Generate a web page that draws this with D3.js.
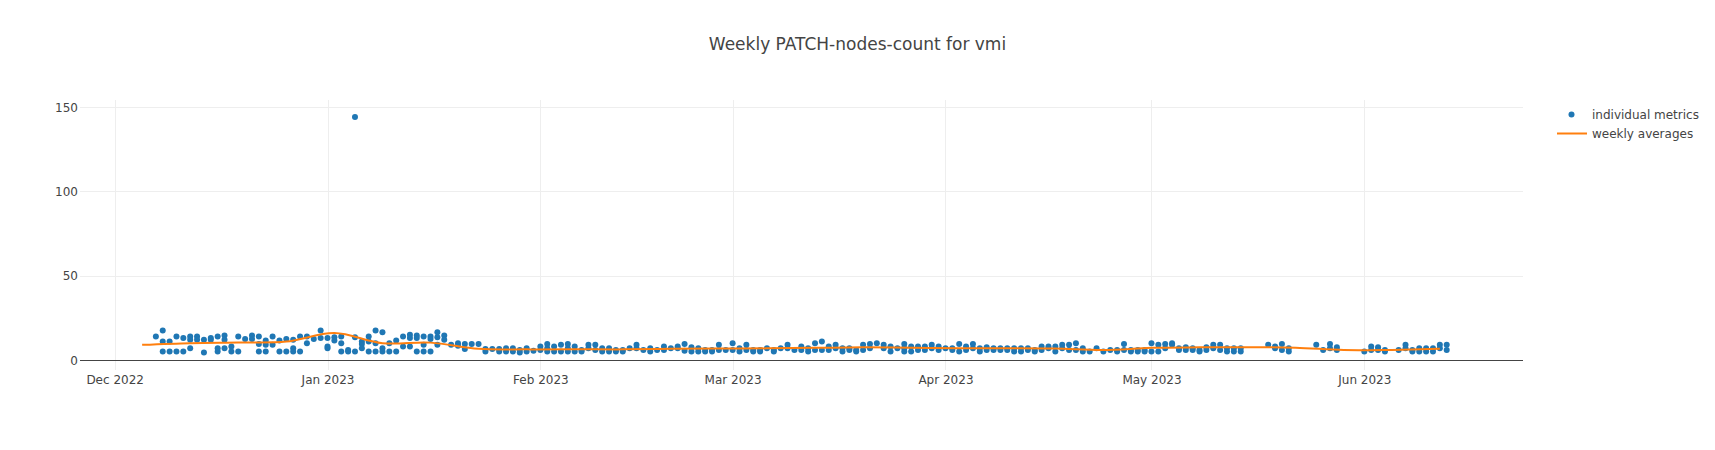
<!DOCTYPE html>
<html>
<head>
<meta charset="utf-8">
<script src="https://cdn.jsdelivr.net/npm/d3@7"></script>
<style>
  html, body { margin: 0; padding: 0; background: #fff; }
  svg { display: block; }
  text { font-family: "DejaVu Sans", Verdana, sans-serif; fill: #444; }
</style>
</head>
<body>
<svg id="chart" width="1715" height="450"></svg>
<script>
// ---------------- data ----------------
const chartTitle = "Weekly PATCH-nodes-count for vmi";
const seriesNames = ["individual metrics", "weekly averages"];

const dailyDates = [
  "2022-12-07","2022-12-08","2022-12-09","2022-12-10","2022-12-11","2022-12-12","2022-12-13","2022-12-14",
  "2022-12-15","2022-12-16","2022-12-17","2022-12-18","2022-12-19","2022-12-20","2022-12-21","2022-12-22",
  "2022-12-23","2022-12-24","2022-12-25","2022-12-26","2022-12-27","2022-12-28","2022-12-29","2022-12-30",
  "2022-12-31","2023-01-01","2023-01-02","2023-01-03","2023-01-04","2023-01-05","2023-01-06","2023-01-07",
  "2023-01-08","2023-01-09","2023-01-10","2023-01-11","2023-01-12","2023-01-13","2023-01-14","2023-01-15",
  "2023-01-16","2023-01-17","2023-01-18","2023-01-19","2023-01-20","2023-01-21","2023-01-22","2023-01-23",
  "2023-01-24","2023-01-25","2023-01-26","2023-01-27","2023-01-28","2023-01-29","2023-01-30","2023-01-31",
  "2023-02-01","2023-02-02","2023-02-03","2023-02-04","2023-02-05","2023-02-06","2023-02-07","2023-02-08",
  "2023-02-09","2023-02-10","2023-02-11","2023-02-12","2023-02-13","2023-02-14","2023-02-15","2023-02-16",
  "2023-02-17","2023-02-18","2023-02-19","2023-02-20","2023-02-21","2023-02-22","2023-02-23","2023-02-24",
  "2023-02-25","2023-02-26","2023-02-27","2023-02-28","2023-03-01","2023-03-02","2023-03-03","2023-03-04",
  "2023-03-05","2023-03-06","2023-03-07","2023-03-08","2023-03-09","2023-03-10","2023-03-11","2023-03-12",
  "2023-03-13","2023-03-14","2023-03-15","2023-03-16","2023-03-17","2023-03-18","2023-03-19","2023-03-20",
  "2023-03-21","2023-03-22","2023-03-23","2023-03-24","2023-03-25","2023-03-26","2023-03-27","2023-03-28",
  "2023-03-29","2023-03-30","2023-03-31","2023-04-01","2023-04-02","2023-04-03","2023-04-04","2023-04-05",
  "2023-04-06","2023-04-07","2023-04-08","2023-04-09","2023-04-10","2023-04-11","2023-04-12","2023-04-13",
  "2023-04-14","2023-04-15","2023-04-16","2023-04-17","2023-04-18","2023-04-19","2023-04-20","2023-04-21",
  "2023-04-22","2023-04-23","2023-04-24","2023-04-25","2023-04-26","2023-04-27","2023-04-28","2023-04-29",
  "2023-04-30","2023-05-01","2023-05-02","2023-05-03","2023-05-04","2023-05-05","2023-05-06","2023-05-07",
  "2023-05-08","2023-05-09","2023-05-10","2023-05-11","2023-05-12","2023-05-13","2023-05-14","2023-05-18",
  "2023-05-19","2023-05-20","2023-05-21","2023-05-25","2023-05-26","2023-05-27","2023-05-28","2023-06-01",
  "2023-06-02","2023-06-03","2023-06-04","2023-06-06","2023-06-07","2023-06-08","2023-06-09","2023-06-10",
  "2023-06-11","2023-06-12","2023-06-13"
];

const dailyValues = [
  [14],[17.5,11,5],[11,5],[14,5],[13,5],[14,12,7],[14,12],[12,4.5],
  [13,12],[14,7,5],[14.5,12,7],[8,5],[14,5],[12.5],[14.5,12.5],[14,9.5,5],
  [11.5,9,5],[14,9],[11.5,5],[12.5,5],[12,7,5],[14,5],[14,10],[12.5],
  [17.5,13],[13,8,7],[13.5,11.5],[14,10,5],[6,5],[144,13.5,5],[11,9.5,7],[14,11,5],
  [17.5,10,5],[16.5,7,5],[10,5],[11.5,5],[14,8],[15,13,8],[14.5,13,5],[14,9,5],
  [14,12.5,5],[16.5,13.5,9],[14.5,12],[9],[10,8.5],[9.5,6.5],[9.5],[9.5],
  [6.5,5],[6.5],[6.5,5],[7,5],[7,5],[6,4.5],[7,5],[5.5],
  [8,6],[9.5,7,5],[8,5],[9,5],[9.5,7,5],[8,5],[6,5],[9,7],
  [9,6],[7,5],[7,5],[6,5],[6,5],[7],[9,7],[6],
  [7,5],[6],[8,6],[7],[8,7],[9.5,5.5],[7.5,5],[7,5],
  [6,5],[6,5],[9,6],[6],[10,6],[7,5],[9,6],[6,5],
  [6,5],[7],[6,5],[7],[9,7],[6],[8,6],[7,5],
  [10,6],[11,6],[8,6],[9,7],[7,5],[7,6],[6,5],[9,6],
  [9.5,7],[10],[9,7],[8,5],[7],[9.5,7,5],[8,5],[8,6],
  [8,6],[9,7],[8,6],[7],[7,6],[9.5,5],[8,6],[9.5,7],
  [7,5],[7.5,6],[7,6],[7,6],[7,6],[7,5],[7,5],[7,6],
  [6,5],[8,6],[8,7],[8,5],[9,7],[9,6],[10,6],[7,5],
  [5],[7],[5],[6],[6,5],[9.5,6],[6,5],[6,5],
  [6,5],[10,5],[9,5],[9.5,7],[10,9],[7,6],[7.5,6],[7,6],
  [6,5],[7.5,6],[9,7],[9,6],[7,5],[7,5],[7,5],[9],
  [8,7],[9.5,6],[7,5],[9],[6],[9.5,7],[7.5,6],[5],
  [8,6],[7.5,6],[6,5],[6],[9,7],[6,5],[7,5],[7,5],
  [7,5],[9,7],[9,6]
];

const weekDates = [
  "2022-12-05","2022-12-12","2022-12-19","2022-12-26","2023-01-02","2023-01-09","2023-01-16",
  "2023-01-23","2023-01-30","2023-02-06","2023-02-13","2023-02-20","2023-02-27","2023-03-06",
  "2023-03-13","2023-03-20","2023-03-27","2023-04-03","2023-04-10","2023-04-17","2023-04-24",
  "2023-05-01","2023-05-08","2023-05-15","2023-05-22","2023-05-29","2023-06-05","2023-06-12"
];
const weekAvg = [
  9.0, 10.0, 10.4, 10.9, 16.0, 10.0, 10.3,
  6.6, 6.3, 6.4, 6.3, 6.6, 6.8, 6.9,
  7.2, 7.5, 7.3, 7.0, 7.0, 6.8, 5.9,
  7.2, 7.5, 7.6, 7.3, 5.9, 6.0, 6.6
];

const yTickValues = [0, 50, 100, 150];
const xDomainDates = ["2022-11-25T22:50:00Z", "2023-06-24T02:40:00Z"];
const yDomain = [-5.93, 154.15];

// ---------------- layout ----------------
const W = 1715, H = 450;
const plot = { left: 80, right: 1523, top: 100, bottom: 370 };
const blue = "#1f77b4", orange = "#ff7f0e";

const svg = d3.select("#chart");
const parse = s => new Date(s.length === 10 ? s + "T00:00:00Z" : s);

const x = d3.scaleUtc()
  .domain(xDomainDates.map(parse))
  .range([plot.left, plot.right]);
const y = d3.scaleLinear()
  .domain(yDomain)
  .range([plot.bottom, plot.top]);

// Title
svg.append("text")
  .attr("x", W / 2).attr("y", 50)
  .attr("text-anchor", "middle")
  .style("font-size", "17px")
  .text(chartTitle);

// Grid
const monthTicks = d3.utcMonth.range(parse("2022-12-01"), parse("2023-07-01"));
const grid = svg.append("g");
grid.selectAll("line.vx").data(monthTicks).join("line")
  .attr("x1", d => Math.round(x(d)) + 0.5).attr("x2", d => Math.round(x(d)) + 0.5)
  .attr("y1", plot.top).attr("y2", plot.bottom)
  .attr("stroke", "#eee").attr("stroke-width", 1);
grid.selectAll("line.hy").data(yTickValues.filter(v => v !== 0)).join("line")
  .attr("x1", plot.left).attr("x2", plot.right)
  .attr("y1", d => Math.round(y(d)) + 0.5).attr("y2", d => Math.round(y(d)) + 0.5)
  .attr("stroke", "#eee").attr("stroke-width", 1);

// Axes (labels only; grid/zero line drawn separately)
const xAxis = d3.axisBottom(x)
  .tickValues(monthTicks)
  .tickFormat(d3.utcFormat("%b %Y"))
  .tickSize(0).tickPadding(0);
const gx = svg.append("g").attr("transform", `translate(0,${plot.bottom})`).call(xAxis);
gx.select(".domain").remove();
gx.selectAll("text").attr("dy", null).attr("y", 13.5)
  .style("font-size", "12px").style("font-family", "'DejaVu Sans', Verdana, sans-serif").attr("fill", "#444");

const yAxis = d3.axisLeft(y).tickValues(yTickValues).tickSize(0).tickPadding(2);
const gy = svg.append("g").attr("transform", `translate(${plot.left},0)`).call(yAxis);
gy.select(".domain").remove();
gy.selectAll("text").attr("dy", "0.35em")
  .style("font-size", "12px").style("font-family", "'DejaVu Sans', Verdana, sans-serif").attr("fill", "#444");

// Zero line (crisp)
const y0 = Math.round(y(0)) + 0.5;
svg.append("line")
  .attr("x1", plot.left).attr("x2", plot.right)
  .attr("y1", y0).attr("y2", y0)
  .attr("stroke", "#444").attr("stroke-width", 1.2)
  .attr("shape-rendering", "crispEdges");

// Points
const points = [];
dailyDates.forEach((d, i) => dailyValues[i].forEach(v => points.push({ date: parse(d), value: v })));
svg.append("g").selectAll("circle").data(points).join("circle")
  .attr("cx", d => x(d.date))
  .attr("cy", d => y(d.value))
  .attr("r", 3)
  .attr("fill", blue);

// Weekly average line
const weekly = weekDates.map((d, i) => ({ date: parse(d), value: weekAvg[i] }));
svg.append("path")
  .datum(weekly)
  .attr("fill", "none")
  .attr("stroke", orange)
  .attr("stroke-width", 2)
  .attr("d", d3.line().x(d => x(d.date)).y(d => y(d.value)).curve(d3.curveCatmullRom.alpha(0.5)));

// Legend
const lg = svg.append("g");
lg.append("circle").attr("cx", 1571.5).attr("cy", 114.5).attr("r", 3).attr("fill", blue);
lg.append("line").attr("x1", 1557).attr("x2", 1587).attr("y1", 133.5).attr("y2", 133.5)
  .attr("stroke", orange).attr("stroke-width", 2);
lg.append("text").attr("x", 1592).attr("y", 114.5).attr("dy", "0.35em")
  .style("font-size", "12px").text(seriesNames[0]);
lg.append("text").attr("x", 1592).attr("y", 133.5).attr("dy", "0.35em")
  .style("font-size", "12px").text(seriesNames[1]);
</script>
</body>
</html>
